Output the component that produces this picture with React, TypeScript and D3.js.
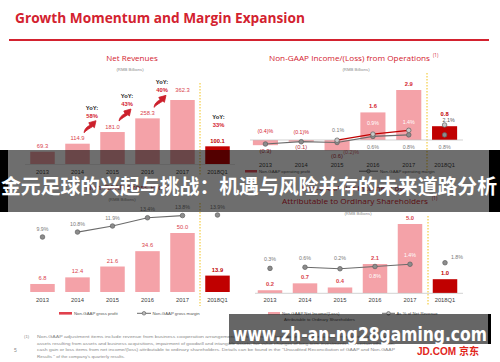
import React from 'react';
import * as d3 from 'd3';

const years = ['2013', '2014', '2015', '2016', '2017', '2018Q1'];
const netRevenue = [69.3, 114.9, 181.0, 258.3, 362.3, 100.1];
const revenueYoY = [null, null, 58, 43, 40, 33];
const opProfit = [-0.3, -0.1, -0.6, 1.6, 2.9, 0.8];
const opMargin = [-0.4, -0.1, -0.2, 0.6, 0.8, 0.8];
const opMarginAdj = [null, null, 0.1, 0.9, 1.4, 2.1];
const grossProfit = [6.8, 12.4, 21.6, 34.6, 50.0, 13.9];
const grossMargin = [9.9, 10.8, 11.9, 13.4, 13.8, 13.9];
const netIncome = [0.2, 0.7, 0.4, 2.1, 5.0, 1.0];
const netMargin = [0.3, 0.6, 0.2, 0.8, 1.4, 1.8];

const titleText = 'Growth Momentum and Margin Expansion';
const bannerText = '金元足球的兴起与挑战：机遇与风险并存的未来道路分析';
const watermarkText = 'www.zh-an-ng28gaming.com';
const footnoteLines = [
  'Non-GAAP adjustment items include revenue from business cooperation arrangements with Walmart, share-based compensation, amortization of intangible',
  'assets resulting from assets and business acquisitions, impairment of goodwill and intangible assets, fair value changes of long-term investments and certain other non-',
  'cash gain or loss items from net income/(loss) attributable to ordinary shareholders. Details can be found in the "Unaudited Reconciliation of GAAP and Non-GAAP',
  'Results " of the company\'s quarterly results.',
];

const RED = '#d3222f';
const PINK = '#f4a2a8';
const DARK = '#c00000';
const GRAYT = '#7a7a7a';
const AXT = '#404040';
const LINE = '#6b6b6b';
const FONT = '"Liberation Sans", Arial, sans-serif';
const TFONT = '"Open Sans", "Liberation Sans", sans-serif';

const fmtV = (v: number) => (v < 0 ? `(${Math.abs(v).toFixed(1)})` : v.toFixed(1));
const fmtP = (v: number) => (v < 0 ? `(${Math.abs(v).toFixed(1)})%` : `${v.toFixed(1)}%`);

const band = (r0: number, r1: number) =>
  d3.scaleBand<string>().domain(years).range([r0, r1]).paddingInner(0.3).paddingOuter(0.15);

function swooshPoints(x: number, y: number) {
  // flame-like arrow pointing up-right, drawn as a polygon
  const pts: [number, number][] = [
    [0, 12], [0.6, 9.6], [1.8, 7.6], [3.6, 5.9], [6.0, 4.5],
    [4.8, 2.0], [12, 0], [10.4, 7.0], [8.9, 5.7],
    [6.6, 7.1], [4.2, 8.6], [2.0, 10.2],
  ];
  return pts.map(([a, b]) => `${(x + a).toFixed(2)},${(y + b).toFixed(2)}`).join(' ');
}

function Marker({ cx, cy, hollow }: { cx: number; cy: number; hollow?: boolean }) {
  return <circle cx={cx} cy={cy} r={2.3} fill={hollow ? '#c8c8c8' : '#8c8c8c'} stroke="#5e5e5e" strokeWidth={0.7} />;
}

export default function App() {
  const x1 = band(25, 235);
  const y1 = d3.scaleLinear().domain([0, 362.3]).range([164, 100]);
  const x2 = band(247.5, 462.5);
  const y2 = d3.scaleLinear().domain([0, 2.9]).range([140, 90]);
  const m2 = d3.scaleLinear().domain([-0.4, 2.1]).range([144, 125]);
  const x3 = band(25, 235);
  const y3 = d3.scaleLinear().domain([0, 50]).range([292, 233]);
  const m3 = d3.scaleLinear().domain([9.9, 13.9]).range([237, 215]);
  const x4 = band(252.5, 462.5);
  const y4 = d3.scaleLinear().domain([0, 5]).range([293, 224]);
  const m4 = d3.scaleLinear().domain([0, 2]).range([269.5, 262]);

  const cx = (s: d3.ScaleBand<string>, i: number) => (s(years[i]) as number) + s.bandwidth() / 2;
  const lineGen = d3.line<[number, number]>().x((d) => d[0]).y((d) => d[1]);

  const gray2 = opMargin.map((v, i) => [cx(x2, i), m2(v)] as [number, number]);
  const red2 = opMarginAdj
    .map((v, i) => (v == null ? null : ([cx(x2, i), m2(v)] as [number, number])))
    .filter((d) => d != null) as [number, number][];
  const line3 = grossMargin.map((v, i) => [cx(x3, i), m3(v)] as [number, number]);
  const line4 = netMargin.map((v, i) => [cx(x4, i), m4(v)] as [number, number]);

  const isLast = (i: number) => i === years.length - 1;

  const gray2Lab = [
    { dx: 0, dy: -11, c: RED },
    { dx: 0, dy: -8, c: RED },
    { dx: 14, dy: 12, c: '#e0707a' },
    { dx: 0, dy: 13, c: GRAYT },
    { dx: 0, dy: 14, c: GRAYT },
    { dx: 0, dy: 14, c: GRAYT },
  ];
  const red2Lab: Record<number, { dx: number; dy: number; c: string }> = {
    2: { dx: 1, dy: -8, c: GRAYT },
    3: { dx: 0, dy: -9, c: '#ffffff' },
    4: { dx: 0, dy: -6, c: '#ffffff' },
    5: { dx: 4, dy: -3, c: '#555555' },
  };
  const lab4 = [
    { dx: 0, dy: -7 },
    { dx: 0, dy: -7 },
    { dx: 0, dy: -9 },
    { dx: 0, dy: 11 },
    { dx: 0, dy: -7 },
    { dx: 12, dy: -4 },
  ];

  const yoyItems = revenueYoY
    .map((v, i) => {
      if (v == null) return null;
      const last = isLast(i);
      const ax = last ? cx(x1, i) + 1 : cx(x1, i) - x1.step() / 2 - 3;
      const top = last ? y1(netRevenue[i]) - 27 : y1(netRevenue[i - 1]) - 34;
      return { v, i, last, ax, top };
    })
    .filter((d) => d != null) as { v: number; i: number; last: boolean; ax: number; top: number }[];

  return (
    <svg
      width={500}
      height={362}
      viewBox="0 0 500 362"
      style={{ position: 'absolute', left: 0, top: 0, background: '#fff' }}
      fontFamily={FONT}
    >
      <rect x={0} y={0} width={500} height={362} fill="#fff" />
      <text x={15} y={23} fill={RED} fontFamily={TFONT} fontWeight={700} fontSize={14} textLength={290} lengthAdjust="spacingAndGlyphs">
        {titleText}
      </text>
      <line x1={9} x2={489} y1={40} y2={40} stroke={RED} strokeWidth={2} />

      {/* Chart 1 */}
      <text x={132} y={61} textAnchor="middle" fill={RED} fontFamily={TFONT} fontSize={8}>Net Revenues</text>
      <text x={130} y={70.5} textAnchor="middle" fill="#8a8a8a" fontSize={4.3}>(RMB Billions)</text>
      <line x1={25} x2={235} y1={164.5} y2={164.5} stroke="#d9d9d9" strokeWidth={0.6} />
      <line x1={200} x2={200} y1={83} y2={176} stroke="#f2c21b" strokeWidth={1} strokeDasharray="1.5,1.5" />
      {netRevenue.map((v, i) => (
        <g key={'r' + i}>
          <rect x={x1(years[i])} y={y1(v)} width={x1.bandwidth()} height={y1(0) - y1(v)} fill={isLast(i) ? DARK : PINK} />
          <text x={cx(x1, i)} y={y1(v) - (i === 4 ? 8 : 3.5)} textAnchor="middle" fill={isLast(i) ? DARK : '#d9434d'} fontSize={5.8} fontWeight={isLast(i) ? 700 : 400}>
            {v.toFixed(1)}
          </text>
          <text x={cx(x1, i)} y={174} textAnchor="middle" fill={AXT} fontSize={5.8}>{years[i]}</text>
        </g>
      ))}
      {yoyItems.map((d) => (
        <g key={'y' + d.i}>
          <text x={d.ax} y={d.top} textAnchor="middle" fill="#222" fontSize={5.8} fontWeight={700}>YoY:</text>
          <text x={d.ax} y={d.top + 8} textAnchor="middle" fill={RED} fontSize={5.8} fontWeight={700}>{d.v}%</text>
          {!d.last && (
            <polygon points={swooshPoints(d.ax - 8, d.top + 11)} fill="#cc1f2b" stroke="#cc1f2b" strokeWidth={0.8} strokeLinejoin="round" />
          )}
        </g>
      ))}

      {/* Chart 2 */}
      <text x={269} y={61} fill={RED} fontFamily={TFONT} fontSize={8} textLength={161} lengthAdjust="spacingAndGlyphs">
        Non-GAAP Income/(Loss) from Operations
      </text>
      <text x={433} y={57} fill={RED} fontFamily={TFONT} fontSize={4.5}>(1)</text>
      <text x={356} y={70.5} textAnchor="middle" fill="#8a8a8a" fontSize={4.3}>(RMB Billions)</text>
      <line x1={427} x2={427} y1={73} y2={172} stroke="#f2c21b" strokeWidth={1} strokeDasharray="1.5,1.5" />
      {opProfit.map((v, i) => (
        <g key={'o' + i}>
          <rect
            x={x2(years[i])}
            y={Math.min(y2(v), y2(0))}
            width={x2.bandwidth()}
            height={Math.abs(y2(0) - y2(v))}
            fill={isLast(i) ? DARK : PINK}
          />
          <text
            x={cx(x2, i)}
            y={v < 0 ? y2(v) + 7.5 : y2(v) - (isLast(i) ? 10 : 4)}
            textAnchor="middle"
            fill={isLast(i) ? DARK : v < 0 ? '#b0303a' : RED}
            fontSize={5.8}
            fontWeight={isLast(i) || v > 0 ? 700 : 400}
          >
            {fmtV(v)}
          </text>
          <text x={cx(x2, i)} y={167} textAnchor="middle" fill={AXT} fontSize={5.8}>{years[i]}</text>
        </g>
      ))}
      <line x1={250} x2={463} y1={140} y2={140} stroke="#bfbfbf" strokeWidth={0.7} />
      <path d={lineGen(gray2.slice(0, 5)) || ''} fill="none" stroke={LINE} strokeWidth={1.2} />
      <path d={lineGen(red2.slice(0, 3)) || ''} fill="none" stroke={DARK} strokeWidth={1.2} />
      {gray2.map((p, i) => (
        <g key={'g2' + i}>
          <Marker cx={p[0]} cy={p[1]} />
          <text x={p[0] + gray2Lab[i].dx} y={p[1] + gray2Lab[i].dy} textAnchor="middle" fill={gray2Lab[i].c} fontSize={5.3}>
            {fmtP(opMargin[i])}
          </text>
        </g>
      ))}
      {opMarginAdj.map((v, i) => {
        if (v == null) return null;
        const px = cx(x2, i);
        const py = m2(v);
        const l = red2Lab[i];
        return (
          <g key={'r2' + i}>
            <Marker cx={px} cy={py} hollow />
            <text x={px + l.dx} y={py + l.dy} textAnchor="middle" fill={l.c} fontSize={5.3}>{fmtP(v)}</text>
          </g>
        );
      })}
      <rect x={245} y={170} width={12} height={2.5} fill="#e8505b" />
      <text x={259} y={172.5} fill="#555" fontSize={4.3}>Non-GAAP operating profit</text>
      <line x1={359} x2={378} y1={171.2} y2={171.2} stroke={LINE} strokeWidth={1} />
      <circle cx={368.5} cy={171.2} r={1.8} fill="#bbb" stroke="#555" strokeWidth={0.6} />
      <text x={380} y={172.5} fill="#555" fontSize={4.3}>Non-GAAP operating margin</text>

      {/* Chart 3 */}
      <text x={128} y={190} textAnchor="middle" fill={RED} fontFamily={TFONT} fontSize={8}>Non-GAAP Gross Profit</text>
      <text x={122} y={201} textAnchor="middle" fill="#8a8a8a" fontSize={4.3}>(RMB Billions)</text>
      <line x1={200} x2={200} y1={203} y2={306} stroke="#f2c21b" strokeWidth={1} strokeDasharray="1.5,1.5" />
      {grossProfit.map((v, i) => (
        <g key={'gp' + i}>
          <rect x={x3(years[i])} y={y3(v)} width={x3.bandwidth()} height={y3(0) - y3(v)} fill={isLast(i) ? DARK : PINK} />
          <text x={cx(x3, i)} y={y3(v) - 4} textAnchor="middle" fill={isLast(i) ? DARK : '#d9434d'} fontSize={5.8} fontWeight={isLast(i) ? 700 : 400}>
            {v.toFixed(1)}
          </text>
          <text x={cx(x3, i)} y={301.5} textAnchor="middle" fill={AXT} fontSize={5.8}>{years[i]}</text>
        </g>
      ))}
      <path d={lineGen(line3.slice(1, 5)) || ''} fill="none" stroke={LINE} strokeWidth={1.2} />
      {line3.map((p, i) => (
        <g key={'gm' + i}>
          <Marker cx={p[0]} cy={p[1]} />
          <text x={p[0]} y={p[1] - 6.5} textAnchor="middle" fill={GRAYT} fontSize={5.3}>{fmtP(grossMargin[i])}</text>
        </g>
      ))}
      <rect x={59} y={312} width={13} height={2.6} fill="#e0404c" />
      <text x={74} y={314.8} fill="#555" fontSize={4.3}>Non-GAAP gross profit</text>
      <line x1={137} x2={151} y1={313.3} y2={313.3} stroke={LINE} strokeWidth={1} />
      <circle cx={144} cy={313.3} r={1.8} fill="#bbb" stroke="#555" strokeWidth={0.6} />
      <text x={152.5} y={314.8} fill="#555" fontSize={4.3}>Non-GAAP gross margin</text>

      {/* Chart 4 */}
      <text x={355} y={191} textAnchor="middle" fill={RED} fontFamily={TFONT} fontSize={8}>Non-GAAP Net Income/(Loss)</text>
      <text x={282} y={204} fill={RED} fontFamily={TFONT} fontSize={8} textLength={146} lengthAdjust="spacingAndGlyphs">
        Attributable to Ordinary Shareholders
      </text>
      <text x={432} y={200} fill={RED} fontFamily={TFONT} fontSize={4.5}>(1)</text>
      <text x={358} y={214.5} textAnchor="middle" fill="#8a8a8a" fontSize={4.3}>(RMB Billions)</text>
      <line x1={428} x2={428} y1={216} y2={306} stroke="#f2c21b" strokeWidth={1} strokeDasharray="1.5,1.5" />
      {netIncome.map((v, i) => (
        <g key={'ni' + i}>
          <rect x={x4(years[i])} y={y4(v)} width={x4.bandwidth()} height={y4(0) - y4(v)} fill={isLast(i) ? DARK : PINK} />
          <text x={cx(x4, i)} y={y4(v) - 4} textAnchor="middle" fill={isLast(i) ? DARK : '#d9434d'} fontSize={5.8} fontWeight={700}>
            {v.toFixed(1)}
          </text>
          <text x={cx(x4, i)} y={301.5} textAnchor="middle" fill={AXT} fontSize={5.8}>{years[i]}</text>
        </g>
      ))}
      <line x1={255} x2={463} y1={293.3} y2={293.3} stroke="#bfbfbf" strokeWidth={0.7} />
      <path d={lineGen(line4.slice(1, 5)) || ''} fill="none" stroke={LINE} strokeWidth={1.2} />
      {line4.map((p, i) => (
        <g key={'nm' + i}>
          <Marker cx={p[0]} cy={p[1]} />
          <text
            x={p[0] + lab4[i].dx}
            y={p[1] + lab4[i].dy}
            textAnchor="middle"
            fill={i === 3 || i === 4 ? '#ffffff' : GRAYT}
            fontSize={5.3}
          >
            {fmtP(netMargin[i])}
          </text>
        </g>
      ))}
      <rect x={268} y={312} width={12} height={2.6} fill={PINK} />
      <text x={282} y={314.8} fill="#555" fontSize={4.3}>Non-GAAP Net Income/(Loss)</text>
      <text x={284} y={321} fill="#555" fontSize={4.3}>Attributable to Ordinary Shareholders</text>
      <line x1={382} x2={395} y1={313.3} y2={313.3} stroke={LINE} strokeWidth={1} />
      <circle cx={388.5} cy={313.3} r={1.8} fill="#bbb" stroke="#555" strokeWidth={0.6} />
      <text x={396.5} y={314.8} fill="#555" fontSize={4.3}>As % of Net Revenue</text>

      {/* Footnote */}
      <text x={24} y={338} fill="#8a8a8a" fontSize={4.2}>(1)</text>
      <text x={14} y={352} fill="#8a8a8a" fontSize={5}>5</text>
      {footnoteLines.map((t, i) => (
        <text
          key={'f' + i}
          x={37}
          y={338 + i * 6.5}
          fill="#8a8a8a"
          fontSize={4.2}
          textLength={i === 3 ? 88 : 358}
          lengthAdjust="spacingAndGlyphs"
        >
          {t}
        </text>
      ))}
      <text x={417} y={354.5} fill="#e1251b" fontSize={10} fontWeight={700} textLength={62} lengthAdjust="spacingAndGlyphs" fontFamily='"Liberation Sans", "Noto Sans CJK SC", sans-serif'>
        JD.COM 京东
      </text>

      {/* Overlays */}
      <rect x={0} y={150} width={500} height={62} fill="rgba(0,0,0,0.57)" />
      <rect x={0} y={150} width={8} height={62} fill="#000" />
      <rect x={489} y={150} width={11} height={62} fill="#000" />
      <text
        x={1}
        y={194}
        fill="#fff"
        fontSize={20}
        fontWeight={700}
        fontFamily='"Noto Sans CJK SC", sans-serif'
        textLength={496}
        lengthAdjust="spacingAndGlyphs"
      >
        {bannerText}
      </text>

      <rect x={229} y={314} width={259} height={30} fill="rgba(0,0,0,0.6)" />
      <rect x={488} y={314} width={3} height={30} fill="#000" />
      <text
        x={233}
        y={341}
        fill="#fff"
        fontSize={19}
        fontWeight={700}
        fontFamily='"DejaVu Sans", sans-serif'
        textLength={254}
        lengthAdjust="spacingAndGlyphs"
      >
        {watermarkText}
      </text>
    </svg>
  );
}
